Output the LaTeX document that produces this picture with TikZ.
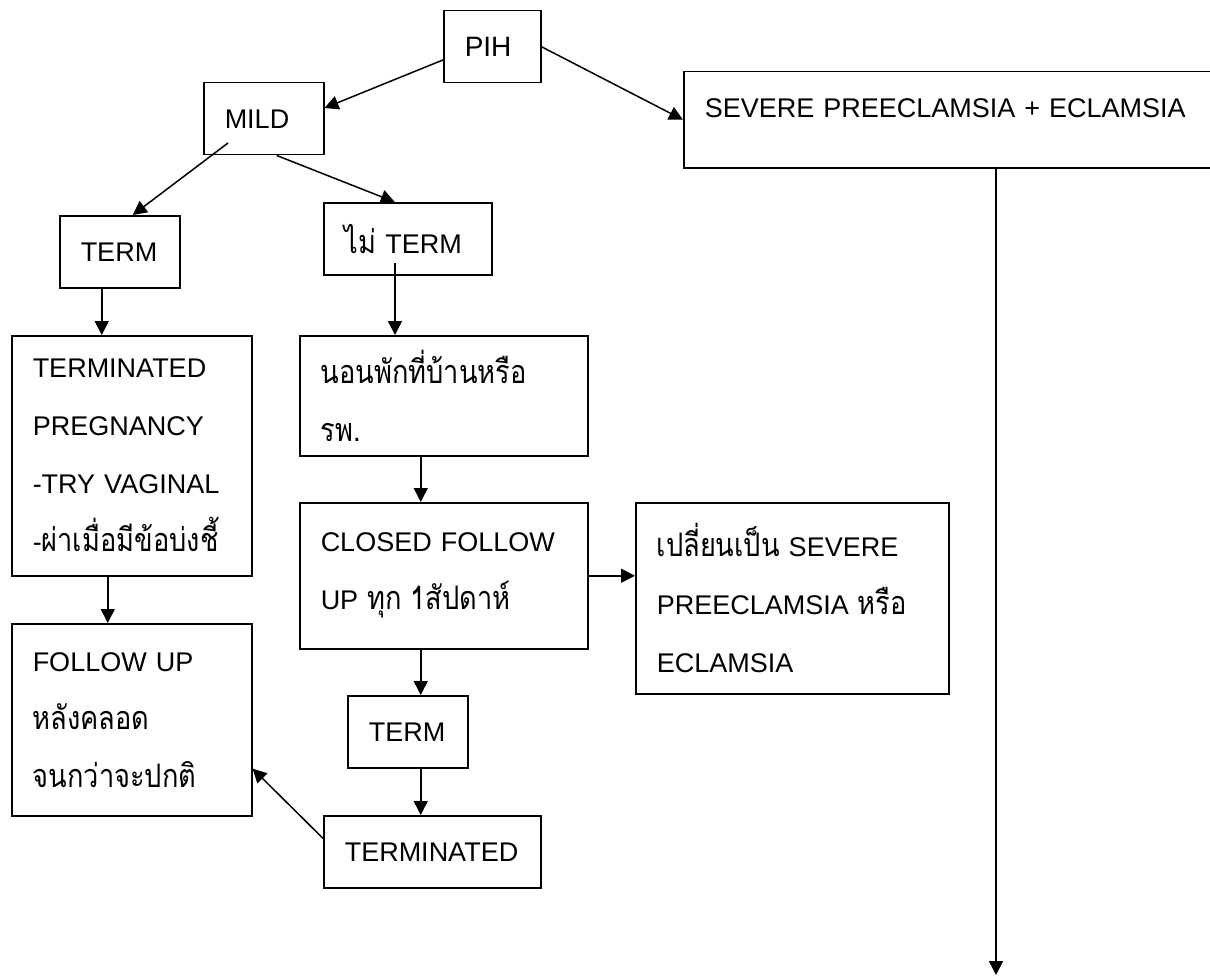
\documentclass[tikz,border=0pt]{standalone}
\usepackage{fontspec}
\setmainfont{Liberation Sans}
\newfontfamily\thaifont[Script=Thai, Scale=1.2, FakeStretch=0.84]{Loma}
\newcommand{\thaitxt}[1]{{\thaifont #1}}
\usetikzlibrary{arrows.meta,calc}

\tikzset{
  box/.style={draw, line width=1.5pt, anchor=north west, align=left,
    inner xsep=21pt, inner ysep=0pt, font=\fontsize{27pt}{58pt}\selectfont},
  flow/.style={-{Triangle[length=14pt,width=14pt]}, line width=1.5pt},
}

\begin{document}
\begin{tikzpicture}[x=1pt, y=-1pt]
  \useasboundingbox (0,0) rectangle (1210,979);

  % 1. boxes
  \node[box, text width=55pt, minimum height=72pt,
        font=\fontsize{28pt}{34pt}\selectfont] (pih) at (443,10) {PIH};
  \node[box, text width=78pt, minimum height=72pt] (mild) at (203,82) {MILD};
  \node[box, text width=498pt, minimum height=96pt, text depth=24pt] (severe)
        at (683,71) {SEVERE PREECLAMSIA + ECLAMSIA};
  \node[box, text width=78pt, minimum height=72pt] (term) at (59,215) {TERM};
  \node[box, text width=126pt, minimum height=72pt] (noterm)
        at (323,202) {\thaitxt{ไม่} TERM};
  \node[box, text width=198pt, minimum height=240pt] (preg) at (11,335)
        {TERMINATED\\PREGNANCY\\-TRY VAGINAL\\-\thaitxt{ผ่าเมื่อมีข้อบ่งชี้}};
  \node[box, text width=246pt, minimum height=120pt] (rest) at (299,335)
        {\thaitxt{นอนพักที่บ้านหรือ}\\\thaitxt{รพ.}};
  \node[box, text width=246pt, minimum height=146pt] (closed) at (299,502)
        {CLOSED FOLLOW\\UP \thaitxt{ทุก 1สัปดาห์}};
  \node[box, text width=271pt, minimum height=191pt] (change) at (635,502)
        {\thaitxt{เปลี่ยนเป็น} SEVERE\\PREECLAMSIA \thaitxt{หรือ}\\ECLAMSIA};
  \node[box, text width=198pt, minimum height=192pt] (fu) at (11,623)
        {FOLLOW UP\\\thaitxt{หลังคลอด}\\\thaitxt{จนกว่าจะปกติ}};
  \node[box, text width=78pt, minimum height=72pt] (term2) at (347,695) {TERM};
  \node[box, text width=175pt, minimum height=72pt] (termd) at (323,815) {TERMINATED};

  % 2. loose ends
  \coordinate (mildfoot) at (228,143);
  \coordinate (notermfoot) at (395,263);
  \coordinate (sevend) at (996,975);

  % 3. arrows
  \draw[flow] (pih.195) -- (mild.10);
  \draw[flow] (pih.east) -- (severe.west);
  \draw[flow] (mildfoot) -- ($(term.north)+(13,0)$);
  \draw[flow] ($(mild.south)+(13,0)$) -- ($(noterm.north)+(-13,0)$);
  \draw[flow] ($(term.south)+(-18,0)$) coordinate (a) -- (a |- preg.north);
  \draw[flow] (notermfoot) -- (notermfoot |- rest.north);
  \draw[flow] ($(preg.south)+(-24,0)$) coordinate (b) -- (b |- fu.north);
  \draw[flow] ($(rest.south)+(-23,0)$) coordinate (c) -- (c |- closed.north);
  \draw[flow] (closed.east) -- (closed.east -| change.west);
  \draw[flow] ($(closed.south)+(-23,0)$) coordinate (d) -- (d |- term2.north);
  \draw[flow] ($(term2.south)+(13,0)$) coordinate (e) -- (e |- termd.north);
  \draw[flow] (termd.173) -- (fu.338);
  \draw[flow] (severe.south -| sevend) -- (sevend);

\end{tikzpicture}
\end{document}
